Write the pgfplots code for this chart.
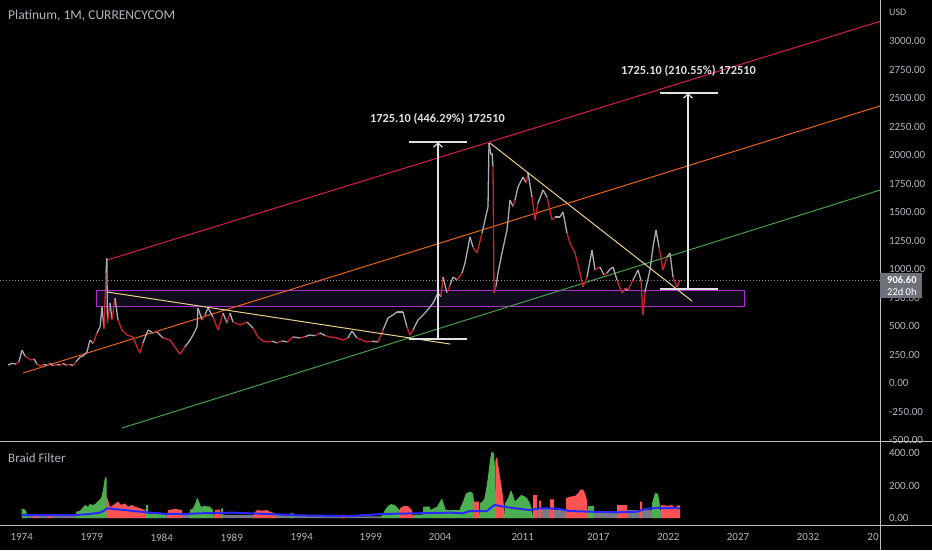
\documentclass[border=0pt]{standalone}
\usepackage{fontspec}
\setmainfont{Carlito}
\usepackage{pgfplots}
\pgfplotsset{compat=1.18}
\usetikzlibrary{arrows.meta}
\definecolor{upgrey}{RGB}{170,173,182}
\definecolor{dnred}{RGB}{205,35,45}
\definecolor{chred}{RGB}{214,28,82}
\definecolor{chorange}{RGB}{232,100,20}
\definecolor{chgreen}{RGB}{67,160,71}
\definecolor{tanl}{RGB}{232,208,140}
\definecolor{purp}{RGB}{175,45,205}
\definecolor{purpfill}{RGB}{16,12,28}
\definecolor{hgreen}{RGB}{76,175,80}
\definecolor{hred}{RGB}{255,82,82}
\definecolor{hgrey}{RGB}{120,123,134}
\definecolor{bline}{RGB}{40,40,255}
\definecolor{txt}{RGB}{178,181,190}
\definecolor{sepc}{RGB}{190,190,195}
\definecolor{boxgrey}{RGB}{110,113,122}
\definecolor{measw}{RGB}{225,225,228}
\definecolor{dotgrey}{RGB}{150,152,160}
\begin{document}
\begin{tikzpicture}
\path[use as bounding box] (0pt,0pt) rectangle (932pt,-550pt);
\fill[black] (0pt,0pt) rectangle (932pt,-550pt);
\begin{axis}[
  at={(0pt,-441pt)}, anchor=south west, width=880pt, height=441pt, scale only axis,
  xmin=0, xmax=880, ymin=-504.7, ymax=3359.3,
  axis line style={draw=none}, major tick length=0pt,
  xtick=\empty, ytick={-500,-250,...,3000}, yticklabel pos=right,
  yticklabel style={text=txt, font=\fontsize{11}{12}\selectfont, anchor=west, xshift=5.5pt},
  /pgf/number format/fixed, /pgf/number format/fixed zerofill,
  /pgf/number format/precision=2, /pgf/number format/1000 sep={},
  /pgf/number format/assume math mode=true,
]
% support zone
\addplot[draw=purp, fill=purpfill, line width=1pt] coordinates {(96,678)(744,678)(744,810)(96,810)(96,678)};
% channel
\addplot[chred, line width=1pt] coordinates {(107,1081) (880,3172)};
\addplot[chorange, line width=1pt] coordinates {(23,91) (880,2431)};
\addplot[chgreen, line width=1pt] coordinates {(122,-391) (880,1694)};
% dotted last price
\addplot[dotgrey, dash pattern=on 1pt off 2pt] coordinates {(0,906.6)(880,906.6)};
% price (monthly), m=1 up, m=0 down
\addplot[mesh, shader=flat corner, point meta=explicit, point meta min=0, point meta max=1,
  colormap={updn}{color=(dnred) color=(upgrey)}, line width=1.3pt] table[meta=m] {
x p m
8 161 1
12 175 1
16 170 0
19 190 1
22 292 1
25 240 0
28 220 0
31 205 0
34 215 1
37 170 0
40 152 0
44 165 1
47 160 0
50 175 1
53 155 0
57 165 1
60 160 0
63 175 1
66 160 0
70 165 1
73 158 0
76 190 1
80 231 1
83 240 1
87 275 1
90 380 1
93 350 0
97 442 1
100 494 1
102 669 1
104 480 0
106 967 1
106.8 1095 1
107.5 530 0
110 704 1
112 560 0
115 748 1
118 555 0
122 468 0
127 424 0
133 407 0
137 319 0
140 266 0
143 354 1
148 468 1
153 442 0
157 450 1
163 398 0
170 380 0
177 292 0
180 258 0
185 319 1
190 380 1
193 424 1
197 494 1
198 661 1
202 555 0
205 599 1
208 661 1
213 582 0
218 468 0
223 617 1
227 529 0
230 617 1
233 538 0
240 512 0
247 538 1
253 485 0
258 407 0
263 370 0
267 363 0
272 370 1
277 355 0
282 372 1
287 363 0
293 407 1
300 398 0
305 410 1
310 424 1
315 418 0
320 442 1
325 420 0
330 407 0
336 400 0
343 380 0
348 400 1
352 459 1
357 398 0
362 380 0
367 363 0
372 370 1
378 363 0
383 468 1
388 573 1
393 600 1
397 626 1
403 626 1
407 494 0
410 424 0
413 468 1
418 555 1
425 617 1
430 669 1
433 704 1
438 792 1
441 760 0
443 932 1
447 792 0
450 860 1
453 932 1
457 906 0
462 967 1
465 1055 1
470 1283 1
473 1195 0
477 1143 0
482 1318 1
485 1432 1
488 1546 1
489 2106 1
491 2000 0
492 2019 1
493 1900 0
494 792 0
496 850 1
498 967 1
502 1143 1
507 1344 1
510 1607 1
513 1550 0
515 1607 1
518 1721 1
523 1809 1
526 1760 0
528 1844 1
532 1633 0
535 1432 0
538 1581 1
543 1695 1
547 1633 0
552 1432 0
555 1458 1
560 1458 1
563 1502 1
567 1318 0
570 1230 0
575 1143 0
580 967 0
583 845 0
587 932 1
592 1169 1
595 994 0
600 1020 1
604 950 0
607 967 1
610 1000 1
613 1020 1
617 906 0
622 792 0
625 830 1
628 818 0
633 906 1
638 994 1
641 900 0
643 599 0
645 800 1
647 880 1
650 994 1
653 1195 1
656 1344 1
659 1195 0
663 994 0
667 1108 1
670 1143 1
673 932 0
677 845 0
680 906 1
};
% trend lines
\addplot[tanl, line width=1pt] coordinates {(107,801) (450,345)};
\addplot[tanl, line width=1pt] coordinates {(490,2106) (692,722)};
% measurement 1
\addplot[measw, line width=1.2pt, -{Straight Barb[length=4pt,width=9pt]}] coordinates {(438,389)(438,2112)};
\addplot[measw, line width=1.2pt] coordinates {(409,2115)(467,2115)};
\addplot[measw, line width=1.2pt] coordinates {(409,389)(467,389)};
% measurement 2
\addplot[measw, line width=1.2pt, -{Straight Barb[length=4pt,width=9pt]}] coordinates {(688,827)(688,2542)};
\addplot[measw, line width=1.2pt] coordinates {(660,2545)(718,2545)};
\addplot[measw, line width=1.2pt] coordinates {(660,827)(718,827)};
\node[text=measw, font=\fontsize{12.3}{14}\selectfont\bfseries] at (axis cs:437.5,2317) {1725.10 (446.29\%) 172510};
\node[text=measw, font=\fontsize{12.3}{14}\selectfont\bfseries] at (axis cs:688.5,2737) {1725.10 (210.55\%) 172510};
\coordinate (boxNW) at (axis cs:880,964.7);
\end{axis}
\begin{axis}[
  at={(0pt,-525pt)}, anchor=south west, width=880pt, height=83pt, scale only axis,
  xmin=0, xmax=880, ymin=-43.2, ymax=469.1,
  axis line style={draw=none}, major tick length=0pt,
  xtick={21.7,91.7,161.7,231.7,301.7,370.7,440,522.7,598.3,668.3,738,808,873},
  xticklabels={1974,1979,1984,1989,1994,1999,2004,2011,2017,2022,2027,2032,20},
  xticklabel style={text=txt, font=\fontsize{11}{12}\selectfont, yshift=-5pt},
  ytick={0,200,400}, yticklabel pos=right,
  yticklabel style={text=txt, font=\fontsize{11}{12}\selectfont, anchor=west, xshift=5.5pt},
  /pgf/number format/fixed, /pgf/number format/fixed zerofill,
  /pgf/number format/precision=2, /pgf/number format/1000 sep={},
  /pgf/number format/assume math mode=true,
]
\addplot[fill=hgrey, draw=none] coordinates {(22,0)(22,12)(75,12)(148,20)(165,25)(223,20)(253,20)(350,10)(380,10)(537,20)(537,60)(552,60)(554,49)(566,49)(566,20)(588,30)(594,35)(617,40)(627,49)(652,49)(660,50)(680,50)(680,0)} \closedcycle;
% green
\addplot[fill=hgreen, draw=none] coordinates {(21.5,0)(21.5,56)(24,56)(26.5,40)(27,0)} \closedcycle;
\addplot[fill=hgreen, draw=none] coordinates {(76,0)(76,39)(80,45)(85,80)(88,70)(90,87)(93,80)(96,91)(99,111)(101,121)(103,173)(104,214)(105,251)(106.5,251)(107,0)} \closedcycle;
\addplot[fill=hgreen, draw=none] coordinates {(145,0)(146,80)(148,80)(148,25)(165,25)(166,0)} \closedcycle;
\addplot[fill=hgreen, draw=none] coordinates {(189,0)(190,49)(193,60)(196,101)(197,128)(199,101)(201,70)(205,74)(210,70)(213,49)(213,0)} \closedcycle;
\addplot[fill=hgreen, draw=none] coordinates {(221,0)(221,60)(223,60)(223,0)} \closedcycle;
\addplot[fill=hgreen, draw=none] coordinates {(290,0)(290,29)(294,29)(294,0)} \closedcycle;
\addplot[fill=hgreen, draw=none] coordinates {(380,0)(382,15)(385,49)(388,74)(391,86)(395,80)(398,60)(400,49)(400,0)} \closedcycle;
\addplot[fill=hgreen, draw=none] coordinates {(413,0)(413,20)(423,22)(423,70)(430,70)(430,49)(437,70)(440,101)(442,122)(444,80)(446,49)(460,49)(460,60)(463,101)(466,152)(470,163)(473,152)(474,101)(474,0)} \closedcycle;
\addplot[fill=hgreen, draw=none] coordinates {(479,0)(480,91)(484,111)(486,173)(488,255)(490,358)(491.5,409)(494,399)(495,300)(495,0)} \closedcycle;
\addplot[fill=hgreen, draw=none] coordinates {(504,0)(505,91)(508,122)(511,173)(513,142)(515,101)(518,122)(521,142)(524,136)(527,122)(530,91)(532,49)(533,0)} \closedcycle;
\addplot[fill=hgreen, draw=none] coordinates {(588,0)(588,74)(594,74)(594,0)} \closedcycle;
\addplot[fill=hgreen, draw=none] coordinates {(652,0)(652,91)(655,156)(658,148)(660,80)(660,0)} \closedcycle;
% red
\addplot[fill=hred, draw=none] coordinates {(33,0)(33,15)(38,15)(38,0)} \closedcycle;
\addplot[fill=hred, draw=none] coordinates {(47,0)(47,10)(52,10)(52,0)} \closedcycle;
\addplot[fill=hred, draw=none] coordinates {(106.5,0)(106.5,142)(108,111)(110,70)(111,70)(118,101)(121,80)(125,90)(128,70)(132,80)(135,70)(140,60)(145,49)(145,0)} \closedcycle;
\addplot[fill=hred, draw=none] coordinates {(167,0)(168,49)(175,56)(182,49)(182,0)} \closedcycle;
\addplot[fill=hred, draw=none] coordinates {(214,0)(215,49)(220,53)(221,0)} \closedcycle;
\addplot[fill=hred, draw=none] coordinates {(253,0)(254,30)(257,49)(262,45)(267,49)(270,39)(275,29)(276,0)} \closedcycle;
\addplot[fill=hred, draw=none] coordinates {(342,0)(342,20)(345,20)(345,0)} \closedcycle;
\addplot[fill=hred, draw=none] coordinates {(400,0)(400,60)(404,74)(408,74)(412,49)(413,0)} \closedcycle;
\addplot[fill=hred, draw=none] coordinates {(474,0)(474,101)(479,101)(479,0)} \closedcycle;
\addplot[fill=hred, draw=none] coordinates {(495,0)(495.5,358)(497,378)(499,296)(501,214)(503,132)(504,70)(504,0)} \closedcycle;
\addplot[fill=hred, draw=none] coordinates {(533,0)(533,142)(537,142)(537,0)} \closedcycle;
\addplot[fill=hred, draw=none] coordinates {(539,0)(539,107)(541,107)(541,0)} \closedcycle;
\addplot[fill=hred, draw=none] coordinates {(550,0)(550,115)(554,115)(554,0)} \closedcycle;
\addplot[fill=hred, draw=none] coordinates {(566,0)(566,122)(570,132)(575,136)(578,152)(580,173)(583,177)(585,152)(587,111)(588,0)} \closedcycle;
\addplot[fill=hred, draw=none] coordinates {(617,0)(617,80)(627,80)(627,0)} \closedcycle;
\addplot[fill=hred, draw=none] coordinates {(640,0)(640,101)(642,101)(642,0)} \closedcycle;
\addplot[fill=hred, draw=none] coordinates {(661,0)(661,80)(668,75)(672,80)(675,60)(678,80)(680,75)(680,0)} \closedcycle;
% blue average
\addplot[bline, line width=2pt] coordinates {(22,18)(40,18)(75,18)(90,25)(100,33)(105,49)(107,60)(113,56)(125,49)(133,43)(150,33)(167,25)(185,25)(200,29)(233,33)(267,25)(300,16)(350,12)(383,25)(417,29)(450,33)(463,29)(470,43)(487,43)(492,70)(495,80)(500,74)(510,64)(530,49)(540,60)(557,58)(570,43)(590,39)(617,35)(637,39)(645,56)(657,62)(680,60)};
\end{axis}
% separators
\draw[sepc, line width=1pt] (0pt,-441.5pt) -- (932pt,-441.5pt);
\draw[sepc, line width=1pt] (0pt,-525pt) -- (932pt,-525pt);
\draw[sepc, line width=1pt] (880pt,0pt) -- (880pt,-550pt);
% last price box
\fill[boxgrey] (boxNW) rectangle ++(42pt,-25pt);
\node[anchor=west, text=white, inner sep=0pt, font=\fontsize{10.5}{12}\selectfont\bfseries] at ([shift={(7pt,-7pt)}]boxNW) {906.60};
\node[anchor=west, text=white, inner sep=0pt, font=\fontsize{10.5}{12}\selectfont] at ([shift={(7pt,-19pt)}]boxNW) {22d 0h};
% texts
\node[anchor=west, text=txt, inner sep=0pt, font=\fontsize{13.5}{15}\selectfont] at (8pt,-16pt) {Platinum, 1M, CURRENCYCOM};
\node[anchor=west, text=txt, inner sep=0pt, font=\fontsize{10}{12}\selectfont] at (889pt,-12pt) {USD};
\node[anchor=west, text=txt, inner sep=0pt, font=\fontsize{13}{15}\selectfont] at (8pt,-458pt) {Braid Filter};
\end{tikzpicture}
\end{document}
